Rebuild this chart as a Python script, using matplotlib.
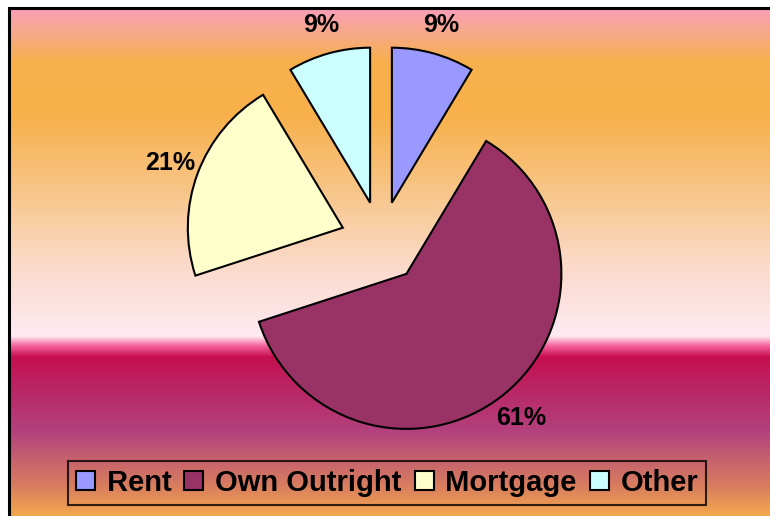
import numpy as np
import matplotlib.pyplot as plt
from matplotlib.colors import to_rgb

# -------------------------
# Data
# -------------------------
labels = ["Rent", "Own Outright", "Mortgage", "Other"]
shares = [8.6, 61.4, 21.4, 8.6]
colors = ["#9999FF", "#993366", "#FFFFCC", "#CCFFFF"]

# background gradient stops (pixel row from top, colour)
grad_rows = [8, 30, 62, 115, 200, 260, 315, 336, 346, 357, 372, 405, 432, 452, 485, 516]
grad_cols = ["#F99FBA", "#F8A890", "#F7B04C", "#F7B04A", "#F8C890", "#FBD9C6",
             "#FDE4E6", "#FFEAF2", "#F4609C", "#C50E4E", "#C01A5A", "#B7306E",
             "#B2427E", "#C05A72", "#D87C60", "#F3A84C"]

plt.rcParams['font.family'] = ['Liberation Sans', 'DejaVu Sans']

W, H = 770, 516
fig = plt.figure(figsize=(W / 100, H / 100), dpi=100)
fig.patch.set_facecolor("white")

# -------------------------
# Gradient plot area
# -------------------------
left_px, top_px = 9, 8
bg = fig.add_axes([left_px / W, 0, 1 - left_px / W, 1 - top_px / H])
rows = np.arange(top_px, H) + 0.5
rgb = np.array([to_rgb(c) for c in grad_cols])
grad = np.stack([np.interp(rows, grad_rows, rgb[:, k]) for k in range(3)], axis=1)
img = np.repeat(grad[:, None, :], 4, axis=1)
bg.imshow(img, aspect="auto", extent=(0, 1, 0, 1), interpolation="bilinear")
bg.set_xlim(0, 1)
bg.set_ylim(0, 1)
bg.set_xticks([])
bg.set_yticks([])
for side in ["right", "bottom"]:
    bg.spines[side].set_visible(False)
for side in ["left", "top"]:
    bg.spines[side].set_linewidth(2.2)
    bg.spines[side].set_color("black")

# -------------------------
# Pie
# -------------------------
ax = fig.add_axes([0, 0, 1, 1])
ax.patch.set_alpha(0)
radius = 155
wedges, _, pcts = ax.pie(
    shares,
    colors=colors,
    startangle=90,
    counterclock=False,
    explode=[0.263 * radius] * len(shares),  # explode is in data units
    radius=radius,
    center=(381, H - 242),
    autopct="%.0f%%",
    pctdistance=1.19,
    wedgeprops=dict(edgecolor="black", linewidth=1.5),
    textprops=dict(fontsize=18, fontweight="bold", color="black"),
)
ax.set_xlim(0, W)
ax.set_ylim(0, H)
ax.set_aspect("equal")
ax.axis("off")

leg = fig.legend(
    wedges, labels,
    loc="center", bbox_to_anchor=(0.5026, 0.064),
    ncol=4, frameon=True, fancybox=False, facecolor="none",
    edgecolor="black",
    prop=dict(family="Liberation Sans", weight="bold", size=21),
    handlelength=0.65, handleheight=0.65, handletextpad=0.4,
    columnspacing=0.45, borderpad=0.28, borderaxespad=0,
)
leg.get_frame().set_linewidth(1.5)

plt.savefig("out.png", dpi=100)
